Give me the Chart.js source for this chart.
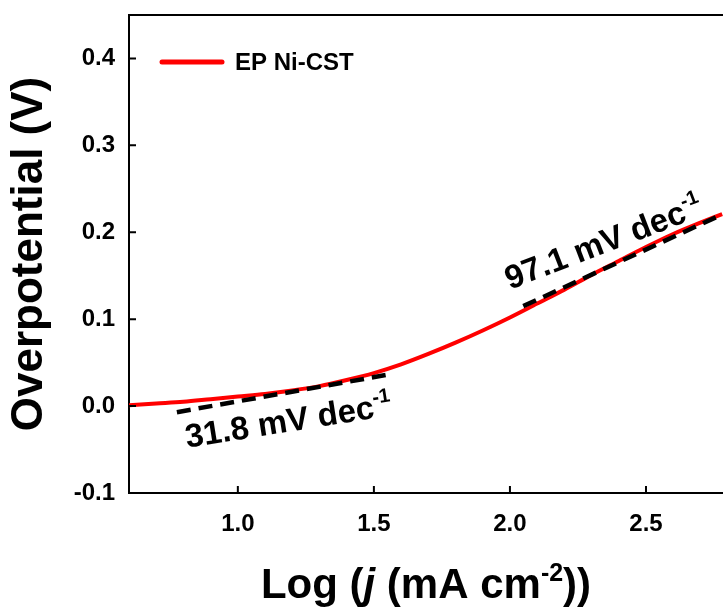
<!DOCTYPE html>
<html>
<head>
<meta charset="utf-8">
<title>Tafel plot</title>
<script src="https://cdn.jsdelivr.net/npm/chart.js@4.4.1/dist/chart.umd.min.js"></script>
<style>
  body { margin: 0; background: #fff; }
  #wrap { width: 723px; height: 608px; }
</style>
</head>
<body>
<div id="wrap"><canvas id="tafelChart" width="723" height="608"></canvas></div>
<script>
// data
const logJ = [0.6, 0.7, 0.8, 0.9, 1.0, 1.1, 1.2, 1.3, 1.4, 1.5, 1.6, 1.7, 1.8, 1.9, 2.0, 2.1, 2.2, 2.3, 2.4, 2.5, 2.6, 2.7, 2.78];
const overpotential = [0.001, 0.003, 0.005, 0.008, 0.011, 0.014, 0.018, 0.023, 0.030, 0.038, 0.048, 0.060, 0.073, 0.087, 0.102, 0.118, 0.134, 0.151, 0.167, 0.183, 0.198, 0.211, 0.221];

const fitLowX = [0.776, 1.567];
const fitLowY = [-0.007, 0.037];
const fitHighX = [2.049, 2.783];
const fitHighY = [0.115, 0.221];

const xTicks = [1.0, 1.5, 2.0, 2.5];
const yTicks = [-0.1, 0.0, 0.1, 0.2, 0.3, 0.4];

const seriesLabel = "EP Ni-CST";
const slopeLabels = [
  { value: "31.8 mV dec", sup: "-1", x: 0.813, y: -0.048, angle: -9 },
  { value: "97.1 mV dec", sup: "-1", x: 2.0, y: 0.134, angle: -21 }
];

const FONT = '"Liberation Sans", Arial, sans-serif';

function toPoints(xs, ys) {
  return xs.map((x, i) => ({ x: x, y: ys[i] }));
}

// draws text made of several pieces (normal / italic / superscript)
function drawRich(ctx, parts, x, y, angle, align) {
  ctx.save();
  ctx.translate(x, y);
  ctx.rotate(angle * Math.PI / 180);
  ctx.fillStyle = "#000";
  ctx.textBaseline = "alphabetic";
  let total = 0;
  parts.forEach(p => {
    ctx.font = `${p.italic ? "italic " : ""}bold ${p.size}px ${FONT}`;
    p.w = ctx.measureText(p.text).width;
    total += p.w;
  });
  let cx = align === "center" ? -total / 2 : 0;
  parts.forEach(p => {
    ctx.font = `${p.italic ? "italic " : ""}bold ${p.size}px ${FONT}`;
    ctx.fillText(p.text, cx, p.raise ? -p.raise : 0);
    cx += p.w;
  });
  ctx.restore();
}

const extrasPlugin = {
  id: "extras",
  afterDatasetsDraw(chart) {
    const { ctx, chartArea, scales } = chart;
    const xs = scales.x, ys = scales.y;

    ctx.save();
    ctx.strokeStyle = "#000";
    ctx.lineWidth = 2;
    // top frame line
    ctx.beginPath();
    ctx.moveTo(chartArea.left, chartArea.top);
    ctx.lineTo(chartArea.right, chartArea.top);
    ctx.stroke();
    // inward ticks
    ctx.beginPath();
    xTicks.forEach(v => {
      const px = xs.getPixelForValue(v);
      ctx.moveTo(px, chartArea.bottom);
      ctx.lineTo(px, chartArea.bottom - 7);
    });
    yTicks.forEach(v => {
      const py = ys.getPixelForValue(v);
      ctx.moveTo(chartArea.left, py);
      ctx.lineTo(chartArea.left + 7, py);
    });
    ctx.stroke();

    // legend
    const ds = chart.data.datasets[0];
    ctx.strokeStyle = ds.borderColor;
    ctx.lineWidth = 5;
    ctx.lineCap = "round";
    ctx.beginPath();
    ctx.moveTo(chartArea.left + 33, chartArea.top + 47);
    ctx.lineTo(chartArea.left + 93, chartArea.top + 47);
    ctx.stroke();
    ctx.fillStyle = "#000";
    ctx.font = `bold 24px ${FONT}`;
    ctx.textBaseline = "middle";
    ctx.fillText(ds.label, chartArea.left + 106, chartArea.top + 48);
    ctx.restore();

    // slope labels
    slopeLabels.forEach(s => {
      drawRich(ctx, [
        { text: s.value, size: 33 },
        { text: s.sup, size: 20, raise: 14 }
      ], xs.getPixelForValue(s.x), ys.getPixelForValue(s.y), s.angle, "left");
    });

    // x axis title
    drawRich(ctx, [
      { text: "Log (", size: 42 },
      { text: "j", size: 42, italic: true },
      { text: " (mA cm", size: 42 },
      { text: "-2", size: 25, raise: 17 },
      { text: "))", size: 42 }
    ], (chartArea.left + chartArea.right) / 2, chartArea.bottom + 105, 0, "center");
  }
};

const chart = new Chart(document.getElementById("tafelChart"), {
  type: "line",
  data: {
    datasets: [
      {
        label: seriesLabel,
        data: toPoints(logJ, overpotential),
        borderColor: "#ff0000",
        borderWidth: 4,
        pointRadius: 0,
        cubicInterpolationMode: "monotone",
        order: 2
      },
      {
        label: "fit low",
        data: toPoints(fitLowX, fitLowY),
        borderColor: "#000",
        borderWidth: 4.5,
        borderDash: [14, 8],
        pointRadius: 0,
        order: 1
      },
      {
        label: "fit high",
        data: toPoints(fitHighX, fitHighY),
        borderColor: "#000",
        borderWidth: 4.5,
        borderDash: [14, 8],
        pointRadius: 0,
        order: 1
      }
    ]
  },
  options: {
    responsive: false,
    animation: false,
    layout: { padding: { top: 15, right: 0, left: 0, bottom: 0 } },
    plugins: {
      legend: { display: false },
      tooltip: { enabled: false }
    },
    scales: {
      x: {
        type: "linear",
        min: 0.6,
        max: 2.783,
        afterBuildTicks: scale => { scale.ticks = xTicks.map(v => ({ value: v })); },
        afterFit: scale => { scale.height = 115; scale.paddingLeft = 0; scale.paddingRight = 0; },
        grid: { display: false, drawTicks: false },
        border: { display: true, color: "#000", width: 2 },
        ticks: {
          padding: 17,
          color: "#000",
          font: { family: FONT, size: 24, weight: "bold" },
          callback: v => v.toFixed(1)
        }
      },
      y: {
        min: -0.1,
        max: 0.45,
        afterBuildTicks: scale => { scale.ticks = yTicks.map(v => ({ value: v })); },
        afterFit: scale => { scale.width = 129; scale.paddingTop = 0; scale.paddingBottom = 0; },
        grid: { display: false, drawTicks: false },
        border: { display: true, color: "#000", width: 2 },
        ticks: {
          padding: 14,
          color: "#000",
          font: { family: FONT, size: 24, weight: "bold" },
          callback: v => v.toFixed(1)
        },
        title: {
          display: true,
          text: "Overpotential (V)",
          color: "#000",
          font: { family: FONT, size: 44, weight: "bold" },
          padding: { top: 3, bottom: 0 }
        }
      }
    }
  },
  plugins: [extrasPlugin]
});
</script>
</body>
</html>
